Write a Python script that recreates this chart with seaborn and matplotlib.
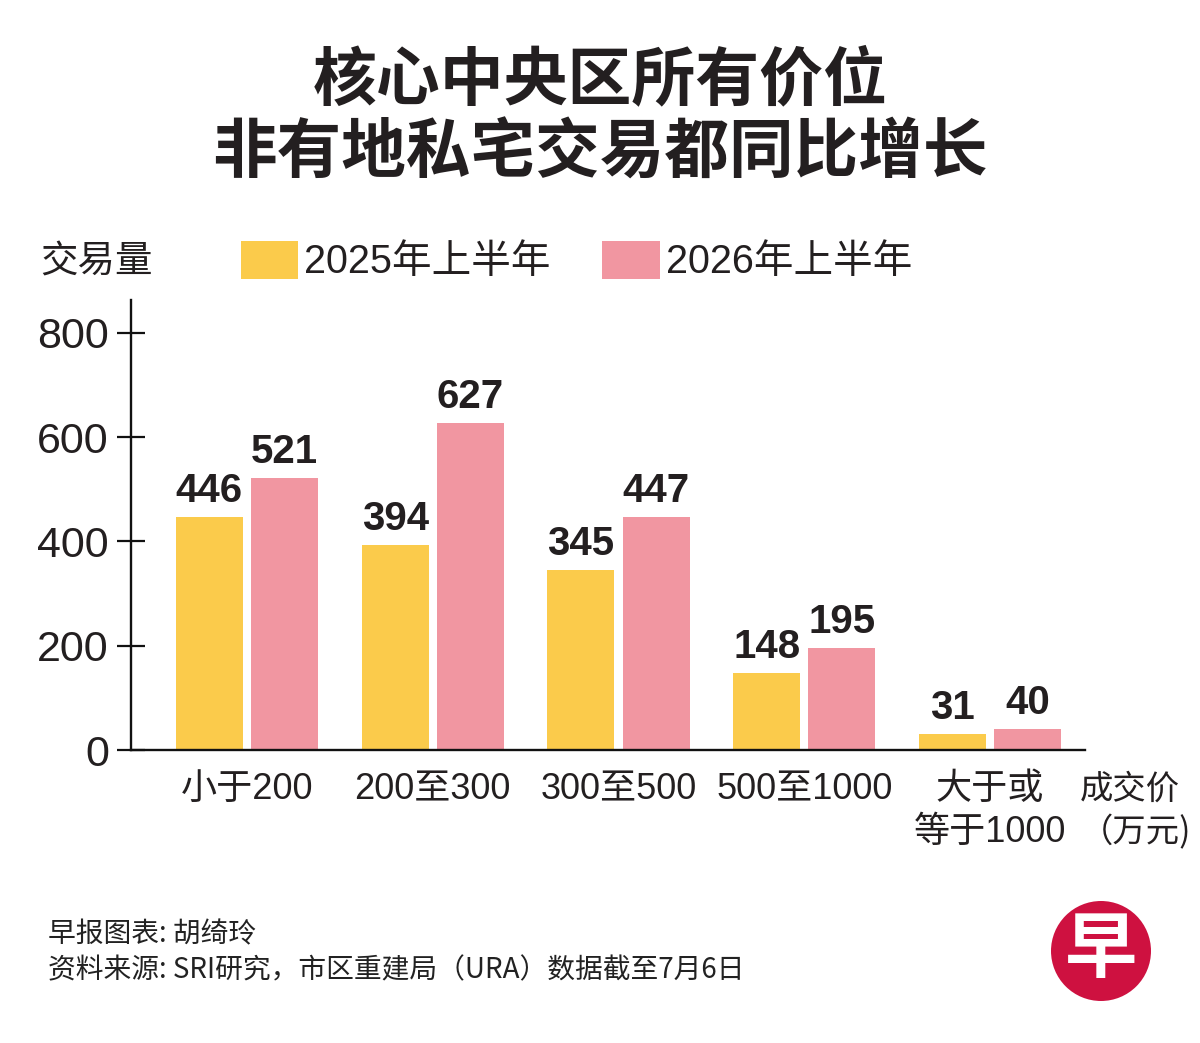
import matplotlib
matplotlib.use('Agg')
import matplotlib.pyplot as plt
import pandas as pd
import seaborn as sns
from matplotlib.patches import Circle

# 数据
categories = ['小于200', '200至300', '300至500', '500至1000', '大于或\n等于1000']
series_names = ['2025年上半年', '2026年上半年']
h1_2025 = [446, 394, 345, 148, 31]
h1_2026 = [521, 627, 447, 195, 40]
y_ticks = [0, 200, 400, 600, 800]

title_line1 = '核心中央区所有价位'
title_line2 = '非有地私宅交易都同比增长'
y_label = '交易量'
x_label = '成交价\n（万元)'
footer1 = '早报图表: 胡绮玲'
footer2 = '资料来源: SRI研究，市区重建局（URA）数据截至7月6日'

df = pd.DataFrame({
    '类别': categories * 2,
    '时期': [series_names[0]] * 5 + [series_names[1]] * 5,
    '交易量': h1_2025 + h1_2026,
})

sns.set_theme(style='white')
CJK = ['Noto Sans CJK SC', 'DejaVu Sans']
NUM = ['Liberation Sans', 'Noto Sans CJK SC']
plt.rcParams['font.family'] = CJK
plt.rcParams['text.color'] = '#231F20'
ink = '#231F20'

fig = plt.figure(figsize=(12, 10.43), dpi=100)
ax = fig.add_axes([131 / 1200, 1 - 750 / 1043, (1085 - 131) / 1200, (750 - 300) / 1043])

palette = {series_names[0]: '#FBCB4B', series_names[1]: '#F196A1'}
sns.barplot(data=df, x='类别', y='交易量', hue='时期', palette=palette,
            width=0.81, gap=0.11, saturation=1, ax=ax, linewidth=0)

for cont in ax.containers:
    ax.bar_label(cont, padding=5, fontsize=29, fontweight='bold',
                 family=NUM, color=ink)

ax.set_xlim(-0.6245, 4.511)
ax.set_ylim(0, 863)
ax.set_yticks(y_ticks)
ax.set_xlabel('')
ax.set_ylabel('')
sns.despine(ax=ax)
for side in ['left', 'bottom']:
    ax.spines[side].set_color('#111111')
    ax.spines[side].set_linewidth(1.7)

ax.tick_params(axis='y', left=True, direction='inout', length=20, width=1.6,
               color='#111111', pad=6, labelsize=31, labelcolor=ink)
ax.tick_params(axis='x', bottom=False, length=0, pad=16, labelsize=26, labelcolor=ink)
for lbl in ax.get_yticklabels():
    lbl.set_family(NUM)
for lbl in ax.get_xticklabels():
    lbl.set_family(NUM)
    lbl.set_linespacing(1.3)

sns.move_legend(ax, loc='center left', bbox_to_anchor=(241 / 1200, 1 - 261 / 1043),
                bbox_transform=fig.transFigure, ncol=2, frameon=False, title=None,
                handlelength=1.45, handleheight=1.1, handletextpad=0.15,
                columnspacing=1.3, borderpad=0, borderaxespad=0,
                prop={'family': NUM, 'size': 28.5})

# 标题
fig.text(0.5, 1 - 80 / 1043, title_line1, ha='center', va='center',
         fontsize=46, fontweight='bold', color=ink)
fig.text(0.5, 1 - 154 / 1043, title_line2, ha='center', va='center',
         fontsize=46.5, fontweight='bold', color=ink)

# 轴标题
fig.text(40 / 1200, 1 - 262 / 1043, y_label, ha='left', va='center',
         fontsize=27, color=ink)
fig.text(1080 / 1200, 1 - 772 / 1043, x_label, ha='left', va='top',
         fontsize=24, color=ink, linespacing=1.3)

# 来源
fig.text(48 / 1200, 1 - 934 / 1043, footer1, ha='left', va='center',
         fontsize=20, color='#222222')
fig.text(48 / 1200, 1 - 970 / 1043, footer2, ha='left', va='center',
         fontsize=20, color='#222222')

# 早报标志
logo = Circle((11.01, 0.92), 0.5, transform=fig.dpi_scale_trans,
              facecolor='#CE1140', edgecolor='none')
fig.add_artist(logo)
fig.text(1101 / 1200, 1 - 951 / 1043, '早', ha='center', va='center',
         fontsize=52, fontweight='bold', color='white')

fig.savefig('out.png', dpi=100)
